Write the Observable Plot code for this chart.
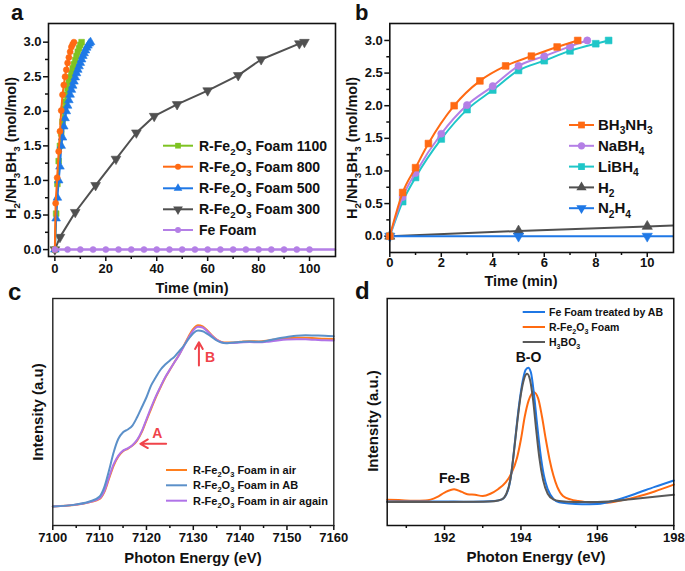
<!DOCTYPE html>
<html><head><meta charset="utf-8">
<script src="https://cdn.jsdelivr.net/npm/d3@7"></script>
<script src="https://cdn.jsdelivr.net/npm/@observablehq/plot@0.6"></script>
<style>
body{margin:0;background:#fff;}
#fig{position:relative;width:685px;height:571px;overflow:hidden;background:#fff;}
#fig svg{position:absolute;}
</style></head><body><div id="fig"></div>
<script>
// ---------------- Panel a data ----------------
const aT1100 = [0,0.5,1,1.5,2,2.5,3,3.5,4,4.5,5,5.5,6,6.5,7,7.5,8,8.5,9,9.5,10,10.5];
const aY1100 = [0,0.52,0.95,1.28,1.5,1.68,1.85,2.04,2.14,2.24,2.33,2.42,2.49,2.55,2.62,2.68,2.74,2.8,2.86,2.91,2.96,3.0];
const aT800 = [0,0.3,0.9,1.5,2,2.5,3,3.5,4,4.5,5,5.5,6,6.5,7,7.5];
const aY800 = [0,0.67,1.04,1.42,1.71,2.01,2.24,2.38,2.5,2.6,2.7,2.78,2.86,2.93,2.97,3.0];
const aT500 = [0,0.5,1,1.5,2,2.5,3,3.5,4,4.5,5,5.5,6,6.5,7,7.5,8,8.5,9,9.5,10,10.5,11,11.5,12,12.5,13,13.5,14];
const aY500 = [0,0.45,0.75,1.0,1.2,1.5,1.62,1.78,1.9,2.0,2.08,2.16,2.24,2.31,2.37,2.43,2.49,2.55,2.6,2.65,2.7,2.75,2.8,2.84,2.88,2.92,2.95,2.98,3.0];
const aT300 = [0,2,8,16,24,32,39,48,60,72,81,96,98];
const aY300 = [0,0.18,0.54,0.93,1.31,1.69,1.93,2.1,2.3,2.52,2.75,2.98,3.0];
const aTFe = [0,5,10,15,20,25,30,35,40,45,50,55,60,65,70,75,80,85,90,95,100,105,110];
const aYFe = [0,0,0,0,0,0,0,0,0,0,0,0,0,0,0,0,0,0,0,0,0,0,0];
const aLegend = ["R-Fe_{2}O_{3} Foam 1100","R-Fe_{2}O_{3} Foam 800","R-Fe_{2}O_{3} Foam 500","R-Fe_{2}O_{3} Foam 300","Fe Foam"];
const aXTicks = [0,20,40,60,80,100], aXMinor = [10,30,50,70,90];
const aYTicks = [0,0.5,1,1.5,2,2.5,3], aYMinor = [0.25,0.75,1.25,1.75,2.25,2.75];

// ---------------- Panel b data ----------------
const bTBH3NH3 = [0,0.5,1,1.5,2.5,3.5,4.5,5.5,6.5,7.3];
const bBH3NH3  = [0,0.67,1.05,1.42,2.0,2.38,2.61,2.76,2.9,3.0];
const bTNaBH4  = [0,0.5,1,2,3,4,5,6,7,7.67];
const bNaBH4   = [0,0.6,0.97,1.57,2.01,2.3,2.61,2.76,2.91,3.0];
const bTLiBH4  = [0,0.5,1,2,3,4,5,6,7,8,8.5];
const bLiBH4   = [0,0.53,0.9,1.49,1.94,2.24,2.54,2.69,2.84,2.95,3.0];
const bTGas    = [0,5,10,11];
const bH2      = [0,0.08,0.15,0.165];
const bN2H4    = [0,0,0,0];
const bLegend = ["BH_{3}NH_{3}","NaBH_{4}","LiBH_{4}","H_{2}","N_{2}H_{4}"];
const bXTicks = [0,2,4,6,8,10], bXMinor = [1,3,5,7,9];
const bYTicks = [0,0.5,1,1.5,2,2.5,3], bYMinor = [0.25,0.75,1.25,1.75,2.25,2.75];

// ---------------- Panel c data ----------------
const cEnergy = [7100,7105,7108,7110,7111,7112,7113,7114,7115,7116,7117,7118,7119,7120,7121,7122,7123,7124,7125,7126,7127,7128,7129,7130,7131,7132,7133,7134,7135,7136,7137,7138,7140,7142,7144,7146,7148,7150,7152,7154,7156,7158,7160];
const cAir   = [0.084,0.091,0.103,0.117,0.147,0.206,0.264,0.304,0.327,0.338,0.352,0.374,0.411,0.463,0.514,0.565,0.609,0.651,0.686,0.72,0.753,0.793,0.833,0.866,0.882,0.877,0.859,0.837,0.819,0.809,0.806,0.806,0.809,0.812,0.811,0.815,0.821,0.825,0.827,0.827,0.825,0.823,0.822];
const cAB    = [0.084,0.093,0.107,0.128,0.169,0.242,0.323,0.382,0.411,0.423,0.44,0.477,0.521,0.565,0.617,0.653,0.686,0.709,0.727,0.744,0.768,0.793,0.822,0.847,0.859,0.856,0.844,0.83,0.815,0.806,0.803,0.805,0.808,0.811,0.809,0.815,0.824,0.83,0.836,0.838,0.837,0.836,0.834];
const cAgain = [0.084,0.092,0.104,0.12,0.152,0.212,0.27,0.308,0.33,0.34,0.354,0.377,0.416,0.468,0.52,0.569,0.612,0.653,0.687,0.72,0.752,0.79,0.828,0.86,0.876,0.872,0.856,0.835,0.818,0.808,0.804,0.804,0.806,0.808,0.807,0.81,0.815,0.819,0.821,0.82,0.818,0.816,0.815];
const cLegend = ["R-Fe_{2}O_{3} Foam in air","R-Fe_{2}O_{3} Foam in AB","R-Fe_{2}O_{3} Foam in air again"];
const cArrowX1 = [7124.2, 7131.2], cArrowY1 = [0.36, 0.705];
const cArrowX2 = [7118.7, 7131.2], cArrowY2 = [0.36, 0.807];
const cNoteText = ["A","B"], cNoteX = [7122.3, 7133.6], cNoteY = [0.405, 0.739];
const cXTicks = [7100,7110,7120,7130,7140,7150,7160], cXMinor = [7105,7115,7125,7135,7145,7155];

// ---------------- Panel d data ----------------
const dEBlue = [190.5,191,191.5,192,192.5,193,193.3,193.5,193.65,193.75,193.85,193.95,194.05,194.12,194.19,194.26,194.34,194.42,194.5,194.6,194.7,194.86,195.0,195.25,195.6,196.0,196.5,197.0,197.5,198];
const dBlue  = [0.106,0.106,0.106,0.106,0.105,0.106,0.108,0.115,0.15,0.23,0.38,0.53,0.64,0.685,0.695,0.675,0.58,0.45,0.33,0.22,0.16,0.115,0.102,0.097,0.094,0.095,0.112,0.14,0.17,0.198];
const dEGray = [190.5,191,192,193,193.3,193.5,193.62,193.72,193.8,193.9,194.0,194.08,194.16,194.24,194.32,194.4,194.48,194.58,194.7,194.85,195.0,195.4,196,197,198];
const dGray  = [0.104,0.104,0.104,0.105,0.107,0.115,0.14,0.2,0.3,0.45,0.58,0.645,0.668,0.64,0.55,0.42,0.3,0.2,0.14,0.115,0.108,0.104,0.104,0.118,0.135];
const dEOrange = [190.5,190.8,191.2,191.5,191.8,192.0,192.25,192.45,192.6,192.8,193.0,193.2,193.4,193.6,193.75,193.9,194.0,194.1,194.2,194.34,194.45,194.55,194.65,194.75,194.85,194.95,195.1,195.3,195.5,195.7,195.9,196.2,196.6,197,197.5,198];
const dOrange  = [0.113,0.112,0.109,0.11,0.125,0.145,0.16,0.148,0.138,0.135,0.13,0.14,0.16,0.19,0.23,0.3,0.38,0.48,0.55,0.587,0.56,0.48,0.38,0.29,0.22,0.17,0.13,0.115,0.108,0.103,0.1,0.1,0.11,0.125,0.15,0.18];
const dLegend = ["Fe Foam treated by AB","R-Fe_{2}O_{3} Foam","H_{3}BO_{3}"];
const dNoteText = ["B-O","Fe-B"], dNoteX = [194.2, 192.26], dNoteY = [0.739, 0.206];
const dXTicks = [192,194,196,198], dXMinor = [191,193,195,197];

// ---------------- helpers ----------------
const FONT = '"Liberation Sans", Arial, sans-serif';
const baseStyle = {fontFamily: FONT, fontSize: "13px", fontWeight: "bold", color: "#111", background: "transparent", overflow: "visible"};
const rows = (xs, ys) => xs.map((t, i) => ({t, v: ys[i]}));
const fig = document.getElementById("fig");
function place(svg, left, top) { svg.style.left = left + "px"; svg.style.top = top + "px"; fig.appendChild(svg); }
const blank = () => "";
function axes(xMaj, xMin, yMaj, yMin, fmtY, xPad = 2) {
  const m = [
    Plot.axisX({ticks: xMaj, tickSize: 5, tickPadding: xPad, strokeWidth: 1.5, label: null, tickFormat: d => String(d)}),
    Plot.axisX({ticks: xMin, tickSize: 3, strokeWidth: 1.5, label: null, tickFormat: blank})
  ];
  if (yMaj) {
    m.push(Plot.axisY({ticks: yMaj, tickSize: 5, tickPadding: 2, strokeWidth: 1.5, label: null, tickFormat: fmtY}));
    m.push(Plot.axisY({ticks: yMin, tickSize: 3, strokeWidth: 1.5, label: null, tickFormat: blank}));
  } else {
    m.push(Plot.axisY({ticks: [], label: null}));
  }
  return m;
}
const series = (data, color, sym, r, opt = {}) => [
  Plot.line(data, {x: "t", y: "v", stroke: color, strokeWidth: opt.sw || 2, curve: opt.curve || "linear"}),
  Plot.dot(opt.dots || data, {x: "t", y: "v", symbol: sym, r, fill: color, stroke: color, strokeWidth: 0.6, rotate: opt.rotate || 0})
];

// ---------------- Panel a ----------------
const col = {green: "#7ec322", orange: "#ff6a13", blue: "#1f78e6", gray: "#505050", purple: "#b47fe6", cyan: "#1fc6c8"};
const aFe = rows(aTFe, aYFe);
const plotA = Plot.plot({
  width: 340, height: 300, marginLeft: 48, marginTop: 23, marginRight: 5, marginBottom: 44,
  style: baseStyle,
  x: {domain: [-2.5, 110.2], label: null},
  y: {domain: [-0.1, 3.27], label: null},
  marks: [
    ...axes(aXTicks, aXMinor, aYTicks, aYMinor, d3.format(".1f")),
    ...series(rows(aT300, aY300), col.gray, "triangle", 3.6, {rotate: 180}),
    ...series(rows(aT1100, aY1100), col.green, "square", 3.2),
    ...series(rows(aT500, aY500), col.blue, "triangle", 3.2),
    ...series(rows(aT800, aY800), col.orange, "circle", 3),
    ...series(aFe, col.purple, "circle", 3, {sw: 2.5, dots: aFe.filter(d => d.t <= 100)}),
    Plot.frame({stroke: "#111", strokeWidth: 1.6})
  ]
});
place(plotA, 0, 0);

// ---------------- Panel b ----------------
const plotB = Plot.plot({
  width: 345, height: 300, marginLeft: 49.3, marginTop: 23, marginRight: 12, marginBottom: 48,
  style: baseStyle,
  x: {domain: [0, 11.02], label: null},
  y: {domain: [-0.25, 3.26], label: null},
  marks: [
    ...axes(bXTicks, bXMinor, bYTicks, bYMinor, d3.format(".1f"), 0),
    ...series(rows(bTGas, bH2), col.gray, "triangle", 3.8, {dots: rows(bTGas.slice(0, 3), bH2.slice(0, 3))}),
    ...series(rows(bTGas, bN2H4), col.blue, "triangle", 3.8, {rotate: 180, dots: rows(bTGas.slice(0, 3), bN2H4.slice(0, 3))}),
    ...series(rows(bTLiBH4, bLiBH4), col.cyan, "square", 3.8, {curve: "monotone-x"}),
    ...series(rows(bTNaBH4, bNaBH4), col.purple, "circle", 3.6, {curve: "monotone-x"}),
    ...series(rows(bTBH3NH3, bBH3NH3), col.orange, "square", 3.8, {curve: "monotone-x"}),
    Plot.frame({stroke: "#111", strokeWidth: 1.6})
  ]
});
place(plotB, 340, 0);

// ---------------- Panel c ----------------
const cCol = {air: "#ff7f1e", ab: "#5b90c9", again: "#b073e8"};
const cArrows = cArrowX1.map((x1, i) => ({x1, y1: cArrowY1[i], x2: cArrowX2[i], y2: cArrowY2[i]}));
const cNotes = cNoteText.map((text, i) => ({text, x: cNoteX[i], y: cNoteY[i]}));
const plotC = Plot.plot({
  width: 340, height: 286, marginLeft: 52.3, marginTop: 13, marginRight: 6.7, marginBottom: 46,
  style: baseStyle,
  x: {domain: [7100, 7160], label: null},
  y: {domain: [0, 1], label: null},
  marks: [
    ...axes(cXTicks, cXMinor, null),
    Plot.line(rows(cEnergy, cAir), {x: "t", y: "v", stroke: cCol.air, strokeWidth: 2, curve: "monotone-x"}),
    Plot.line(rows(cEnergy, cAgain), {x: "t", y: "v", stroke: cCol.again, strokeWidth: 2, curve: "monotone-x"}),
    Plot.line(rows(cEnergy, cAB), {x: "t", y: "v", stroke: cCol.ab, strokeWidth: 2, curve: "monotone-x"}),
    Plot.arrow(cArrows, {x1: "x1", y1: "y1", x2: "x2", y2: "y2", stroke: "#f0434a", strokeWidth: 2, headLength: 9}),
    Plot.text(cNotes, {x: "x", y: "y", text: "text", fill: "#f0434a", fontSize: 14, fontWeight: "bold"}),
    Plot.frame({stroke: "#222", strokeWidth: 1.4})
  ]
});
place(plotC, 0, 285);

// ---------------- Panel d ----------------
const dCol = {blue: "#1f77e4", orange: "#ff6a10", gray: "#595959"};
const dNotes = dNoteText.map((text, i) => ({text, x: dNoteX[i], y: dNoteY[i]}));
const plotD = Plot.plot({
  width: 345, height: 286, marginLeft: 46.7, marginTop: 13, marginRight: 11.7, marginBottom: 46,
  style: baseStyle,
  x: {domain: [190.5, 198], label: null},
  y: {domain: [0, 1], label: null},
  marks: [
    ...axes(dXTicks, dXMinor, null),
    Plot.line(rows(dEOrange, dOrange), {x: "t", y: "v", stroke: dCol.orange, strokeWidth: 2, curve: "monotone-x"}),
    Plot.line(rows(dEBlue, dBlue), {x: "t", y: "v", stroke: dCol.blue, strokeWidth: 2, curve: "monotone-x"}),
    Plot.line(rows(dEGray, dGray), {x: "t", y: "v", stroke: dCol.gray, strokeWidth: 2, curve: "monotone-x"}),
    Plot.text(dNotes, {x: "x", y: "y", text: "text", fill: "#111", fontSize: 14, fontWeight: "bold"}),
    Plot.frame({stroke: "#111", strokeWidth: 1.5})
  ]
});
place(plotD, 340, 285);

// ---------------- Overlay: titles, legends, panel letters ----------------
const ov = d3.select(fig).append("svg").attr("width", 685).attr("height", 571)
  .style("left", "0px").style("top", "0px").style("pointer-events", "none")
  .attr("font-family", FONT).attr("font-weight", "bold").attr("fill", "#111");

function rich(sel, str, fs) {
  const parts = str.split(/(_\{[^}]*\})/).filter(p => p);
  let cur = 0;
  parts.forEach(p => {
    const m = p.match(/^_\{(.*)\}$/);
    const target = m ? fs * 0.28 : 0;
    const t = sel.append("tspan").attr("dy", target - cur).text(m ? m[1] : p);
    if (m) t.attr("font-size", fs * 0.68);
    cur = target;
  });
}
function label(x, y, str, fs, anchor = "middle", rotate = false) {
  const g = ov.append("g").attr("transform", `translate(${x},${y})` + (rotate ? " rotate(-90)" : ""));
  const t = g.append("text").attr("x", 0).attr("y", fs * 0.35).attr("font-size", fs).attr("text-anchor", anchor);
  rich(t, str, fs);
}
const symMap = {circle: d3.symbolCircle, square: d3.symbolSquare, triangle: d3.symbolTriangle};
function legend(items, colors, syms, rots, radii, x0, x1, xText, rowYs, fs, sw) {
  items.forEach((it, i) => {
    const y = rowYs[i];
    ov.append("line").attr("x1", x0).attr("x2", x1).attr("y1", y).attr("y2", y)
      .attr("stroke", colors[i]).attr("stroke-width", sw);
    if (syms && syms[i]) {
      ov.append("path").attr("d", d3.symbol(symMap[syms[i]], Math.PI * radii[i] * radii[i])())
        .attr("transform", `translate(${(x0 + x1) / 2},${y}) rotate(${rots[i]})`).attr("fill", colors[i]);
    }
    label(xText, y, it, fs, "start");
  });
}

// panel letters
ov.append("text").attr("x", 11).attr("y", 19.5).attr("font-size", 22).text("a");
ov.append("text").attr("x", 355).attr("y", 20).attr("font-size", 22).text("b");
ov.append("text").attr("x", 8).attr("y", 300).attr("font-size", 24).text("c");
ov.append("text").attr("x", 355).attr("y", 298.5).attr("font-size", 24).text("d");

// axis titles
label(192, 288, "Time (min)", 14.5);
label(521, 281, "Time (min)", 14.5);
label(193, 558, "Photon Energy (eV)", 14.8);
label(536, 557, "Photon Energy (eV)", 15);
label(11, 148, "H_{2}/NH_{3}BH_{3} (mol/mol)", 14.5, "middle", true);
label(352, 148, "H_{2}/NH_{3}BH_{3} (mol/mol)", 14.5, "middle", true);
label(38, 412, "Intensity (a.u)", 15, "middle", true);
label(373, 421, "Intensity (a.u.)", 15, "middle", true);

// legends
legend(aLegend, [col.green, col.orange, col.blue, col.gray, col.purple],
  ["square", "circle", "triangle", "triangle", "circle"], [0, 0, 0, 180, 0], [3.2, 3, 3.2, 3.6, 3],
  163, 193, 199, [145.7, 166.7, 188.3, 209.3, 230], 14, 2);
legend(bLegend, [col.orange, col.purple, col.cyan, col.gray, col.blue],
  ["square", "circle", "square", "triangle", "triangle"], [0, 0, 0, 0, 180], [3.8, 3.6, 3.8, 3.8, 3.8],
  569, 594, 598, [125, 145.8, 166.6, 187.4, 208.2], 15, 2);
legend(cLegend, [cCol.air, cCol.ab, cCol.again], null, null, null,
  166, 187, 193, [470, 485.3, 500.7], 11, 2);
legend(dLegend, [dCol.blue, dCol.orange, dCol.gray], null, null, null,
  522.7, 545, 549, [312, 327, 342], 10.5, 2);
</script></body></html>
